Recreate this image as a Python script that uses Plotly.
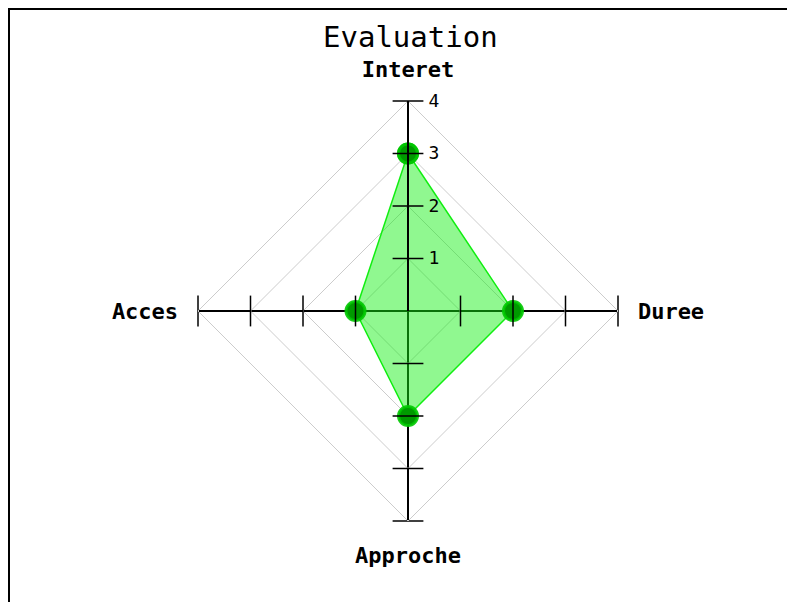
import plotly.graph_objects as go

# data
categories = ["Interet", "Duree", "Approche", "Acces"]
values = [3, 2, 2, 1]
levels = [1, 2, 3, 4]

W, H = 795, 602
cx, cy, rad = 400, 303, 210

fig = go.Figure()

# filled area
fig.add_trace(go.Scatterpolar(
    r=values + values[:1],
    theta=categories + categories[:1],
    mode="lines+markers",
    fill="toself",
    fillcolor="rgba(20,240,20,0.47)",
    line=dict(color="#11ee11", width=1.5),
    marker=dict(size=19, color="#009a00", line=dict(color="rgba(0,200,0,0.9)", width=3)),
    hoverinfo="skip",
    showlegend=False,
))

# tick marks across each axis
for i, cat in enumerate(categories):
    sym = "line-ew" if i % 2 == 0 else "line-ns"
    fig.add_trace(go.Scatterpolar(
        r=levels,
        theta=[cat] * len(levels),
        mode="markers",
        marker=dict(symbol=sym, size=22, line=dict(color="black", width=1.5)),
        hoverinfo="skip",
        showlegend=False,
    ))

fig.update_layout(
    width=W, height=H,
    margin=dict(l=0, r=0, t=0, b=0),
    paper_bgcolor="white",
    plot_bgcolor="white",
    polar=dict(
        domain=dict(x=[(cx - rad) / W, (cx + rad) / W],
                    y=[(H - cy - rad) / H, (H - cy + rad) / H]),
        gridshape="linear",
        bgcolor="white",
        radialaxis=dict(
            range=[0, 4], tickvals=levels, angle=90, tickangle=90,
            showline=True, linecolor="black", linewidth=2,
            gridcolor="#cccccc", gridwidth=1,
            ticks="outside", ticklen=16, tickcolor="rgba(0,0,0,0)",
            layer="above traces",
            tickfont=dict(family="DejaVu Sans Mono", size=18, color="black"),
        ),
        angularaxis=dict(
            rotation=90, direction="clockwise",
            showline=True, linecolor="#cccccc", linewidth=1,
            gridcolor="black", gridwidth=2,
            ticks="outside", ticklen=15, tickcolor="rgba(0,0,0,0)",
            layer="above traces",
            tickfont=dict(family="DejaVu Sans Mono", size=22, color="black", weight="bold"),
        ),
    ),
    annotations=[dict(
        text="Evaluation", x=402 / W, y=1 - 29 / H, xref="paper", yref="paper",
        showarrow=False, xanchor="center", yanchor="middle",
        font=dict(family="DejaVu Sans Mono", size=29, color="black"),
    )],
    shapes=[
        dict(type="line", xref="paper", yref="paper", x0=0, x1=1, y0=1 - 1 / H, y1=1 - 1 / H,
             line=dict(color="black", width=2)),
        dict(type="line", xref="paper", yref="paper", x0=1 / W, x1=1 / W, y0=0, y1=1,
             line=dict(color="black", width=2)),
    ],
)

fig.write_html("out.html")
